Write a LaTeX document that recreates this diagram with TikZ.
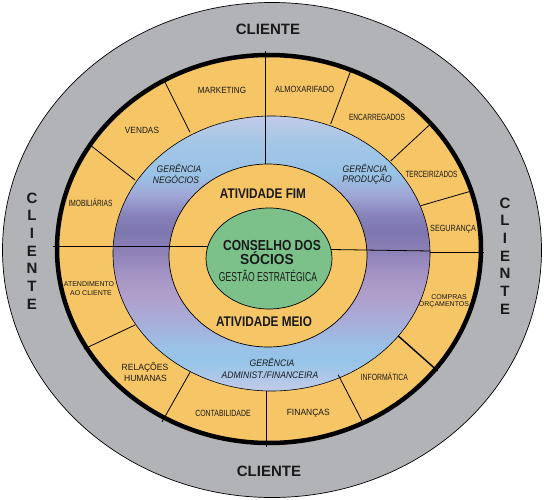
\documentclass[tikz,border=0pt]{standalone}
\usepackage{fontspec}
\setmainfont{Liberation Sans}
\usepackage{graphicx}
\definecolor{grayring}{HTML}{B2B3B7}
\definecolor{yel}{HTML}{F5C566}
\definecolor{grn}{HTML}{7CC18A}
\definecolor{txt}{HTML}{1A1A1A}
\definecolor{bA}{HTML}{C2CBE8}
\definecolor{bB}{HTML}{A2C6E6}
\definecolor{bC}{HTML}{98C2E6}
\definecolor{bD}{HTML}{A0A6D6}
\definecolor{bE}{HTML}{8882BA}
\definecolor{bF}{HTML}{7E77AF}
\definecolor{bG}{HTML}{8C80B6}
\definecolor{bH}{HTML}{A495C4}
\definecolor{bI}{HTML}{B09ECB}
\definecolor{bJ}{HTML}{A8ACD8}
\definecolor{bK}{HTML}{9CC0E6}
\definecolor{bL}{HTML}{94C4E8}
\pgfdeclareverticalshading{ringshade}{100bp}{color(0bp)=(bA); color(25bp)=(bA); color(30.6bp)=(bL); color(33.4bp)=(bK); color(37.9bp)=(bJ); color(42.5bp)=(bI); color(46.1bp)=(bH); color(50.6bp)=(bG); color(53.9bp)=(bF); color(57bp)=(bE); color(60.6bp)=(bD); color(64.3bp)=(bC); color(69.7bp)=(bB); color(75bp)=(bA); color(100bp)=(bA)}
\newcommand{\hsq}[2]{\scalebox{#1}[1]{#2}}
\begin{document}
\begin{tikzpicture}[x=1pt,y=-1pt,
  lab/.style={inner sep=0pt, anchor=base, text=txt},
  sm/.style={lab, font=\fontsize{9}{11}\selectfont},
  tn/.style={lab, font=\fontsize{7}{8}\selectfont},
  ger/.style={lab, font=\fontsize{9.5}{11}\selectfont\itshape},
  big/.style={lab, font=\fontsize{14}{16}\selectfont\bfseries},
  cli/.style={lab, font=\fontsize{15}{18}\selectfont\bfseries},
  clv/.style={inner sep=0pt, text=txt, align=center, font=\fontsize{15}{17.7}\selectfont\bfseries},
  rad/.style={line width=0.8pt, shorten <=-4pt},
  ]
\useasboundingbox (0,0) rectangle (544,500);
% rings
\filldraw[fill=grayring, draw=black, line width=0.7pt] (272,250) ellipse [x radius=269.5, y radius=247.5];
\fill[yel] (269,249) ellipse [x radius=212, y radius=194];
\shadedraw[shading=ringshade, draw=black, line width=0.6pt] (271.5,253.5) ellipse [x radius=158.5, y radius=137.5];
\filldraw[fill=yel, draw=black, line width=0.7pt] (268,255.5) ellipse [x radius=99, y radius=91.5];
\filldraw[fill=grn, draw=black, line width=0.7pt] (269,258.5) ellipse [x radius=63, y radius=50.5];
% dividers
\draw[rad] (165,82.3) -- (190,132.3);
\draw[rad] (92.3,146.7) -- (135,180);
\draw[rad] (350,72.7) -- (330.7,124);
\draw[rad] (428.3,126) -- (390.7,161);
\draw[rad] (469,191.7) -- (420.7,205.7);
\draw[rad] (87.7,347.3) -- (135,325);
\draw[rad] (164,418.3) -- (190,372.3);
\draw[rad, line width=1.4pt] (434.7,368.3) -- (398.3,336);
\draw[rad] (340,378.3) -- (363,422.7);
\draw[rad] (265.7,55) -- (265.7,164.5);
\draw[line width=0.8pt] (266.7,391) -- (266.7,447);
\draw[rad] (57,246) -- (208,246);
\draw[line width=0.8pt] (331,249.5) -- (430,251);
\draw[line width=0.8pt] (430,252.5) -- (484,252.5);
% thick ring
\draw[black, line width=4.5pt] (269,249) ellipse [x radius=212, y radius=194];
% client labels
\node[cli] (clT) at (268,34.3) {CLIENTE};
\node[cli] (clB) at (269,476.7) {CLIENTE};
\node[clv] (clL) at (32,251) {C\\L\\I\\E\\N\\T\\E};
\node[clv] (clR) at (505,256) {C\\L\\I\\E\\N\\T\\E};
% centre
\node[big] (fim) at (263,199) {\hsq{0.84}{ATIVIDADE FIM}};
\node[big] (meio) at (264,326) {\hsq{0.84}{ATIVIDADE MEIO}};
\node[lab, font=\fontsize{14.5}{16}\selectfont\bfseries] (cons) at (272,250.7) {\hsq{0.83}{CONSELHO DOS}};
\node[lab, font=\fontsize{14.5}{16}\selectfont\bfseries] (soc) at (267,265) {\hsq{0.95}{SÓCIOS}};
\node[lab, font=\fontsize{13}{15}\selectfont] (gest) at (268,281) {\hsq{0.66}{GESTÃO ESTRATÉGICA}};
% blue ring
\node[ger] (g1a) at (179,172.3) {\hsq{0.9}{GERÊNCIA}};
\node[ger] (g1b) at (176,183.3) {\hsq{0.9}{NEGÓCIOS}};
\node[ger] (g2a) at (365,172.3) {\hsq{0.9}{GERÊNCIA}};
\node[ger] (g2b) at (367,183) {\hsq{0.9}{PRODUÇÃO}};
\node[ger] (g3a) at (272,366) {\hsq{0.9}{GERÊNCIA}};
\node[ger] (g3b) at (270,378.3) {\hsq{0.9}{ADMINIST./FINANCEIRA}};
% outer yellow ring
\node[sm] (mkt) at (222,94) {\hsq{0.90}{MARKETING}};
\node[sm] (ven) at (142,134) {\hsq{0.92}{VENDAS}};
\node[sm] (imo) at (90.5,206.7) {\hsq{0.73}{IMOBILIÁRIAS}};
\node[sm] (alm) at (304.7,92.3) {\hsq{0.83}{ALMOXARIFADO}};
\node[sm] (enc) at (377,121) {\hsq{0.73}{ENCARREGADOS}};
\node[sm] (ter) at (431.5,178) {\hsq{0.71}{TERCEIRIZADOS}};
\node[sm] (seg) at (453,231) {\hsq{0.8}{SEGURANÇA}};
\node[tn] (comp) at (449,299.3) {COMPRAS};
\node[tn] (orc) at (444,306.7) {ORÇAMENTOS};
\node[sm] (inf) at (384.3,380.7) {\hsq{0.76}{INFORMÁTICA}};
\node[sm] (fin) at (308.3,415) {\hsq{0.945}{FINANÇAS}};
\node[sm] (con) at (223,416) {\hsq{0.77}{CONTABILIDADE}};
\node[sm] (rel) at (145,370) {\hsq{0.95}{RELAÇÕES}};
\node[sm] (hum) at (145.5,381) {\hsq{0.95}{HUMANAS}};
\node[tn] (ate) at (89,286) {ATENDIMENTO};
\node[tn] (aoc) at (91,295.3) {AO CLIENTE};
\end{tikzpicture}
\end{document}
